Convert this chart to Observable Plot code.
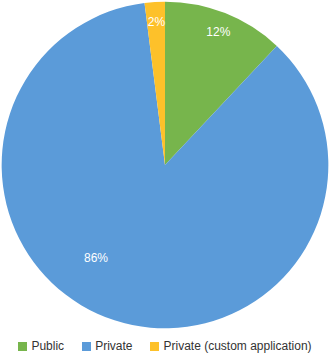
<!DOCTYPE html>
<html>
<head>
<meta charset="utf-8">
<script src="https://cdn.jsdelivr.net/npm/d3@7"></script>
<script src="https://cdn.jsdelivr.net/npm/@observablehq/plot@0.6"></script>
<style>
  body { margin: 0; background: #fff; font-family: "Liberation Sans", Arial, sans-serif; }
  #chart svg { display: block; }
  .legend { display: flex; justify-content: center; align-items: center; gap: 18px; margin-top: 9px; font-size: 12px; color: #333; }
  .legend span.item { display: flex; align-items: center; }
  .legend i { display: inline-block; width: 9px; height: 9px; margin-right: 4px; }
</style>
</head>
<body>
<div id="chart"></div>
<script>
// Deployment shares (percent)
const categories = ["Public", "Private", "Private (custom application)"];
const shares = [12, 86, 2];
const colors = ["#77b54c", "#5b9bd9", "#fdc12a"];

const W = 330, H = 330;
const R = 0.99; // pie radius in data units

const rows = categories.map((c, i) => ({category: c, value: shares[i]}));
const arcs = d3.pie().sort(null).value(d => d.value)(rows);

// label placement: small wedges near the rim, the large one further in and rotated
function labelPoint(a) {
  const big = a.data.value > 50;
  const ang = (a.startAngle + a.endAngle) / 2 + (big ? 19 * Math.PI / 180 : 0);
  const r = big ? 0.7 : 0.87;
  return {x: r * Math.sin(ang), y: r * Math.cos(ang), text: `${a.data.value}%`};
}
const labels = arcs.map(labelPoint);

const color = d3.scaleOrdinal(categories, colors);

const wedges = (index, scales) => {
  const cx = scales.x(0), cy = scales.y(0);
  const rpx = scales.x(R) - scales.x(0);
  const arc = d3.arc().innerRadius(0).outerRadius(rpx);
  const g = d3.create("svg:g").attr("transform", `translate(${cx},${cy})`);
  g.selectAll("path").data(arcs).join("path")
    .attr("d", arc)
    .attr("fill", d => color(d.data.category));
  return g.node();
};

const plot = Plot.plot({
  width: W,
  height: H,
  margin: 0,
  x: {domain: [-1, 1], axis: null},
  y: {domain: [-1, 1], axis: null},
  style: {fontFamily: "'Liberation Sans', Arial, sans-serif", background: "#fff"},
  marks: [
    wedges,
    Plot.text(labels, {x: "x", y: "y", text: "text", fill: "#fff", fontSize: 12})
  ]
});
document.getElementById("chart").append(plot);

const legend = document.createElement("div");
legend.className = "legend";
categories.forEach((c, i) => {
  const item = document.createElement("span");
  item.className = "item";
  const sw = document.createElement("i");
  sw.style.background = colors[i];
  item.append(sw, document.createTextNode(c));
  legend.append(item);
});
document.body.append(legend);
</script>
</body>
</html>
